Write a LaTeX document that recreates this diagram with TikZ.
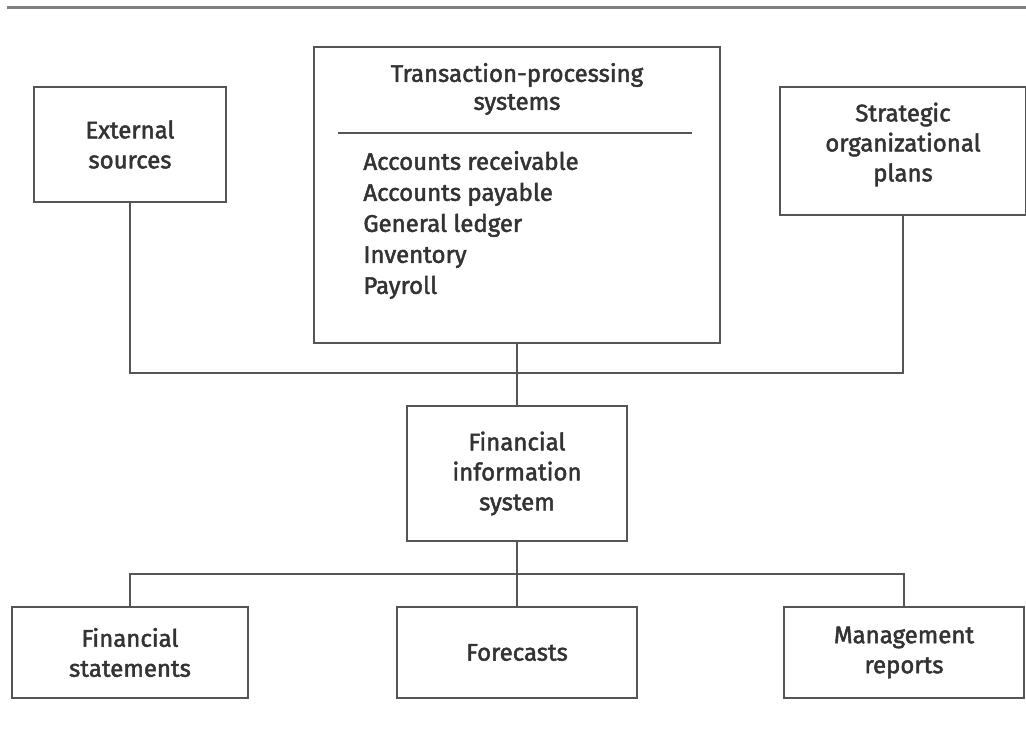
\documentclass[tikz,border=0pt]{standalone}
\usepackage{fontspec}
\setmainfont{Fira Sans}[FakeBold=2]
\usepackage{tikz}
\usetikzlibrary{positioning}

\definecolor{linegray}{HTML}{555555}
\definecolor{textgray}{HTML}{333333}

\tikzset{
  box/.style={draw=linegray, line width=1pt, align=center, inner sep=0pt,
    text=textgray, font=\fontsize{12}{15}\selectfont},
  link/.style={draw=linegray, line width=1pt}
}

\begin{document}
\begin{tikzpicture}[x=0.5pt, y=-0.5pt]
  \useasboundingbox (0,0) rectangle (1026,737);
  % rule along the top
  \draw[gray, line width=1.5pt] (7,8) -- (1026,8);

  % inputs
  \node[box, minimum width=96pt, minimum height=57.5pt] (ext) at (130,144.5) {External\\sources};
  \node[box, minimum width=203pt, minimum height=148pt] (tps) at (517,195) {};
  \node[text=textgray, align=center, font=\fontsize{12}{14}\selectfont] (tpstitle) at (517,89) {Transaction-processing\\systems};
  \draw[link] (338,133) -- (692,133);
  \node[text=textgray, align=left, anchor=west, font=\fontsize{12}{15.5}\selectfont, inner sep=0pt] (tpslist) at (363,225)
    {Accounts receivable\\Accounts payable\\General ledger\\Inventory\\Payroll};
  \node[box, minimum width=123pt, minimum height=64pt] (strat) at (903,151) {Strategic\\organizational\\plans\\[-6pt]};

  % the system itself
  \node[box, minimum width=110pt, minimum height=67.5pt] (fis) at (517,473.5) {Financial\\information\\system};

  % outputs
  \node[box, minimum width=118pt, minimum height=45.5pt] (fs) at (130,652.5) {Financial\\statements};
  \node[box, minimum width=120pt, minimum height=45.5pt] (fore) at (517,652.5) {Forecasts};
  \node[box, minimum width=120pt, minimum height=45.5pt] (mr) at (904,652.5) {Management\\reports};

  % connectors
  \coordinate (join) at (517,373);
  \coordinate (split) at (517,574);
  \draw[link] (ext.south) |- (join) -| (strat.south);
  \draw[link] (tps.south) -- (fis.north);
  \draw[link] (fis.south) -- (fore.north);
  \draw[link] (fs.north) |- (split) -| (mr.north);
\end{tikzpicture}
\end{document}
